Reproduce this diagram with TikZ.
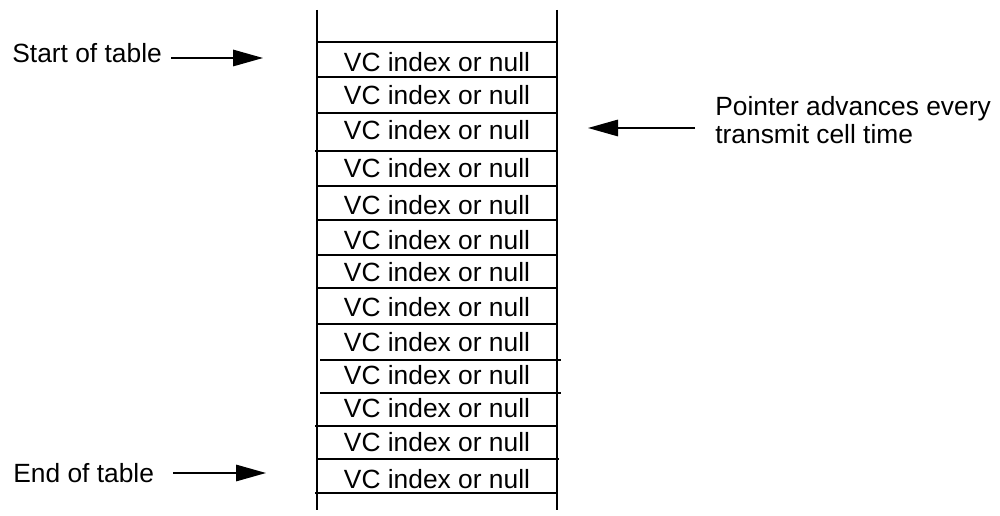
\documentclass[tikz,border=0pt]{standalone}
\usepackage{fontspec}
\setmainfont{Liberation Sans}
\usetikzlibrary{arrows.meta}

\begin{document}
\begin{tikzpicture}[
  x=0.02cm, y=-0.02cm,
  every node/.style={font=\fontsize{15}{16}\selectfont, inner sep=0pt},
  c/.style={anchor=base},
  l/.style={anchor=base west},
  r/.style={line width=1.1pt},
  p/.style={-{Triangle[length=0.6cm,width=0.33cm]}, line width=0.85pt}
]
\useasboundingbox (0,0) rectangle (1000,516);
% walls of the table
\coordinate (tl) at (317,10);  \coordinate (bl) at (317,510);
\coordinate (tr) at (557,10);  \coordinate (br) at (557,510);
\draw[r] (tl) -- (bl);
\draw[r] (tr) -- (br);
% row separators
\foreach \y/\a/\b in {42/317/558, 77/317/557, 113/317/557, 151/315/557,
                      186/317/557, 220/317/558, 255/317/557, 288/317/557,
                      324/317/557, 360/320/561, 393/320/561, 426/315/558,
                      459/317/559, 493/315/557}
  \draw[r] (\a,\y) -- (\b,\y);
% entries
\foreach \b [count=\i] in {72,105,140,178,215,250,282,317,352,385,418,452,488}
  \node[c] (vc\i) at (437,\b) {VC index or null};
% labels and pointers
\node[l] (start) at (12,63) {Start of table};
\node[l] (end) at (13,482) {End of table};
\node[anchor=north west, align=left] (adv) at (715,96)
  {Pointer advances every\\transmit cell time};
\coordinate (s0) at (171,58);  \coordinate (s1) at (263,58);
\coordinate (e0) at (173,473); \coordinate (e1) at (266,473);
\coordinate (a0) at (695,128); \coordinate (a1) at (588,128);
\draw[p] (s0) -- (s1);
\draw[p] (e0) -- (e1);
\draw[p] (a0) -- (a1);
\end{tikzpicture}
\end{document}
